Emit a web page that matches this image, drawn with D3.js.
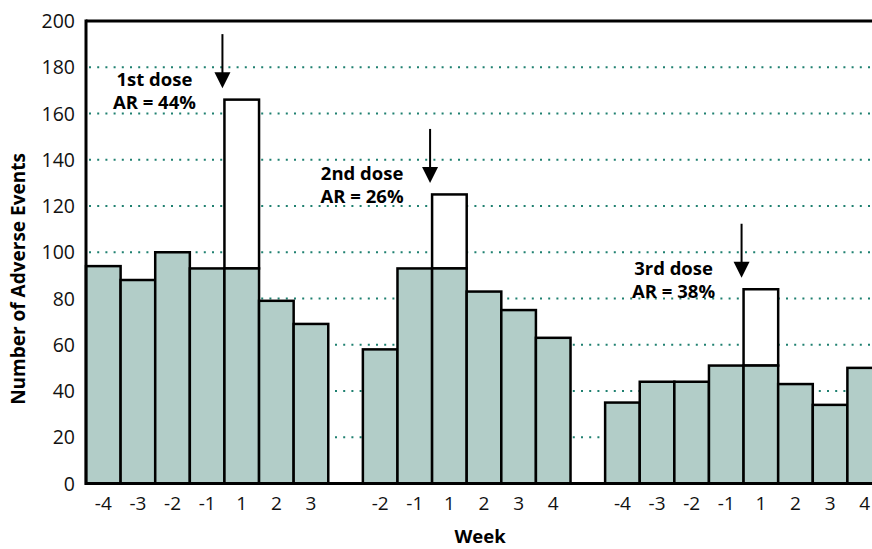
<!DOCTYPE html>
<html>
<head>
<meta charset="utf-8">
<script src="https://cdn.jsdelivr.net/npm/d3@7"></script>
<style>
  body { margin: 0; background: #fff; }
  svg { display: block; font-family: "Open Sans", sans-serif; }
</style>
</head>
<body>
<script>
// weekly adverse events around each dose
let weeks1 = ["-4", "-3", "-2", "-1", "1", "2", "3"];
let base1 = [94, 88, 100, 93, 93, 79, 69];
let weeks2 = ["-2", "-1", "1", "2", "3", "4"];
let base2 = [58, 93, 93, 83, 75, 63];
let weeks3 = ["-4", "-3", "-2", "-1", "1", "2", "3", "4"];
let base3 = [35, 44, 44, 51, 51, 43, 34, 50];

// total in week 1 after each dose (white part above the base)
let doseTotals = [166, 125, 84];
let doseNames = ["1st dose", "2nd dose", "3rd dose"];
let arLabels = ["AR = 44%", "AR = 26%", "AR = 38%"];

let yTicks = [0, 20, 40, 60, 80, 100, 120, 140, 160, 180, 200];

let width = 872, height = 549;
let margin = {left: 86, top: 21, bottom: 65};
let plotRight = 882;

// one slot per week, one empty slot between the groups
let groups = [weeks1, weeks2, weeks3];
let bases = [base1, base2, base3];
let slots = [];
let bars = [];
groups.forEach((g, gi) => {
    if (gi > 0) slots.push("gap" + gi);
    g.forEach((w, i) => {
        let id = gi + ":" + w;
        slots.push(id);
        bars.push({id: id, week: w, group: gi, base: bases[gi][i],
                   total: w === "1" ? doseTotals[gi] : null});
    });
});

let svg = d3.select("body").append("svg")
    .attr("width", width)
    .attr("height", height);

let x = d3.scaleBand()
    .domain(slots)
    .range([margin.left, plotRight])
    .padding(0);

let y = d3.scaleLinear()
    .domain([0, 200])
    .range([height - margin.bottom - 0.5, margin.top]);

// dotted grid
svg.append("g")
    .selectAll("line")
    .data(yTicks.filter(t => t > 0 && t < 200))
    .join("line")
        .attr("x1", margin.left + 3)
        .attr("x2", width)
        .attr("y1", d => y(d))
        .attr("y2", d => y(d))
        .attr("stroke", "#1f8070")
        .attr("stroke-width", 2)
        .attr("stroke-dasharray", "2,6.2");

// white tops of the week-1 bars
svg.append("g")
    .selectAll("rect")
    .data(bars.filter(d => d.total !== null))
    .join("rect")
        .attr("x", d => x(d.id))
        .attr("width", x.bandwidth())
        .attr("y", d => y(d.total))
        .attr("height", d => y(d.base) - y(d.total))
        .attr("fill", "#fff")
        .attr("stroke", "#000")
        .attr("stroke-width", 2.5);

// grey bars
svg.append("g")
    .selectAll("rect")
    .data(bars)
    .join("rect")
        .attr("x", d => x(d.id))
        .attr("width", x.bandwidth())
        .attr("y", d => y(d.base))
        .attr("height", d => y(0) - y(d.base))
        .attr("fill", "#b2cdc8")
        .attr("stroke", "#000")
        .attr("stroke-width", 2.5);

// frame: left, top, bottom
let frame = svg.append("g").attr("stroke", "#000").attr("stroke-width", 3);
frame.append("line")
    .attr("x1", margin.left).attr("x2", margin.left)
    .attr("y1", y(200) - 1.5).attr("y2", y(0) + 1.5);
frame.append("line")
    .attr("x1", margin.left).attr("x2", width)
    .attr("y1", y(200)).attr("y2", y(200));
frame.append("line")
    .attr("x1", margin.left).attr("x2", width)
    .attr("y1", y(0)).attr("y2", y(0));

// y tick labels
svg.append("g")
    .selectAll("text")
    .data(yTicks)
    .join("text")
        .attr("x", 75)
        .attr("y", d => y(d))
        .attr("dy", "0.36em")
        .attr("text-anchor", "end")
        .attr("font-size", 19.5)
        .attr("fill", "#111")
        .text(d => d);

// x tick labels
svg.append("g")
    .selectAll("text")
    .data(bars)
    .join("text")
        .attr("x", d => x(d.id) + x.bandwidth() / 2)
        .attr("y", y(0) + 26)
        .attr("text-anchor", "middle")
        .attr("font-size", 19)
        .attr("fill", "#111")
        .text(d => d.week);

// axis titles
svg.append("text")
    .attr("transform", "translate(25," + 279 + ") rotate(-90)")
    .attr("text-anchor", "middle")
    .attr("font-size", 19)
    .attr("font-weight", "bold")
    .text("Number of Adverse Events");

svg.append("text")
    .attr("x", (margin.left + plotRight) / 2 - 4)
    .attr("y", 543)
    .attr("text-anchor", "middle")
    .attr("font-size", 18.5)
    .attr("font-weight", "bold")
    .text("Week");

// dose arrows and labels
let notes = svg.append("g")
    .selectAll("g")
    .data(bars.filter(d => d.total !== null))
    .join("g")
        .attr("transform", d => "translate(" + (x(d.id) - 2) + "," + (y(d.total) - 11.5) + ")");

notes.append("line")
    .attr("x1", 0).attr("x2", 0)
    .attr("y1", -54).attr("y2", -10)
    .attr("stroke", "#000")
    .attr("stroke-width", 2);

notes.append("path")
    .attr("d", "M -8,-16 L 8,-16 L 0,0 Z")
    .attr("fill", "#000");

notes.append("text")
    .attr("x", -68)
    .attr("y", -2.5)
    .attr("text-anchor", "middle")
    .attr("font-size", 18.5)
    .attr("font-weight", "bold")
    .text(d => doseNames[d.group]);

notes.append("text")
    .attr("x", -68)
    .attr("y", 20.5)
    .attr("text-anchor", "middle")
    .attr("font-size", 18.5)
    .attr("font-weight", "bold")
    .text(d => arLabels[d.group]);
</script>
</body>
</html>
